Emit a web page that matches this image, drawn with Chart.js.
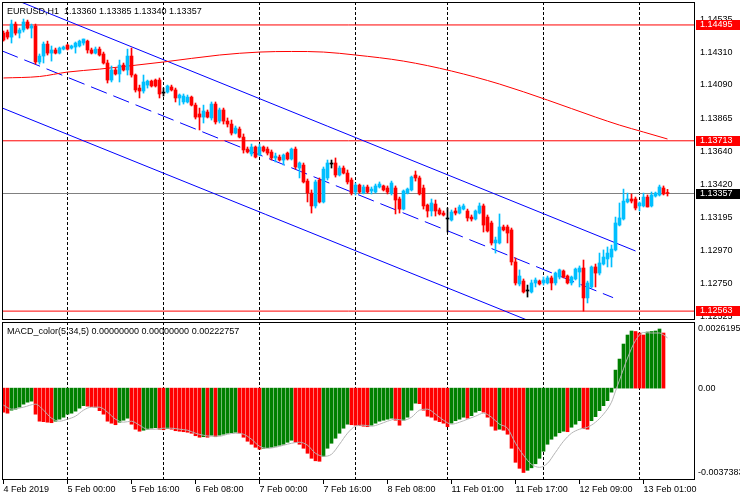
<!DOCTYPE html>
<html>
<head>
<meta charset="utf-8">
<script src="https://cdn.jsdelivr.net/npm/chart.js@4.4.1/dist/chart.umd.min.js"></script>
<style>
  body { margin: 0; background: #fff; }
  #wrap { position: relative; width: 740px; height: 500px; }
  canvas { position: absolute; left: 0; }
</style>
</head>
<body>
<div id="wrap">
  <canvas id="price" width="740" height="320" style="top:0"></canvas>
  <canvas id="macd" width="740" height="180" style="top:320px"></canvas>
</div>
<script>
// Candles, EURUSD H1, bar 0 = 4 Feb 08:00
const openP = [
  1.14440, 1.14447, 1.14413, 1.14501, 1.14440, 1.14461, 1.14515, 1.14474, 1.14488, 1.14245,
  1.14285, 1.14366, 1.14305, 1.14326, 1.14305, 1.14332, 1.14359, 1.14339, 1.14346, 1.14353,
  1.14373, 1.14386, 1.14326, 1.14305, 1.14332, 1.14299, 1.14238, 1.14123, 1.14191, 1.14164,
  1.14224, 1.14191, 1.14285, 1.14157, 1.14069, 1.14049, 1.14089, 1.14116, 1.14123, 1.14123,
  1.14035, 1.14042, 1.14076, 1.14056, 1.14002, 1.13975, 1.13975, 1.14008, 1.13954, 1.13894,
  1.13873, 1.13907, 1.13867, 1.13961, 1.13846, 1.13921, 1.13846, 1.13826, 1.13765, 1.13792,
  1.13738, 1.13657, 1.13624, 1.13671, 1.13617, 1.13671, 1.13657, 1.13637, 1.13597, 1.13603,
  1.13583, 1.13630, 1.13590, 1.13657, 1.13529, 1.13549, 1.13441, 1.13360, 1.13273, 1.13448,
  1.13300, 1.13462, 1.13556, 1.13563, 1.13482, 1.13529, 1.13495, 1.13448, 1.13367, 1.13414,
  1.13360, 1.13401, 1.13374, 1.13367, 1.13401, 1.13408, 1.13394, 1.13360, 1.13394, 1.13320,
  1.13252, 1.13360, 1.13381, 1.13482, 1.13462, 1.13394, 1.13279, 1.13239, 1.13286, 1.13246,
  1.13225, 1.13185, 1.13178, 1.13239, 1.13225, 1.13252, 1.13239, 1.13198, 1.13185, 1.13225,
  1.13273, 1.13198, 1.13158, 1.13023, 1.13023, 1.13131, 1.13131, 1.13111, 1.12895, 1.12746,
  1.12766, 1.12699, 1.12692, 1.12753, 1.12766, 1.12753, 1.12753, 1.12787, 1.12753, 1.12793,
  1.12834, 1.12800, 1.12753, 1.12780, 1.12827, 1.12854, 1.12652, 1.12726, 1.12861, 1.12820,
  1.12881, 1.12915, 1.12928, 1.12976, 1.13144, 1.13185, 1.13300, 1.13320, 1.13320, 1.13273,
  1.13273, 1.13333, 1.13273, 1.13340, 1.13347, 1.13394, 1.13360
];
const highP = [
  1.14454, 1.14461, 1.14528, 1.14515, 1.14474, 1.14535, 1.14528, 1.14501, 1.14501, 1.14299,
  1.14380, 1.14386, 1.14353, 1.14339, 1.14346, 1.14353, 1.14366, 1.14359, 1.14380, 1.14393,
  1.14400, 1.14393, 1.14339, 1.14346, 1.14346, 1.14312, 1.14258, 1.14218, 1.14204, 1.14258,
  1.14238, 1.14332, 1.14339, 1.14164, 1.14089, 1.14157, 1.14123, 1.14123, 1.14130, 1.14137,
  1.14069, 1.14089, 1.14089, 1.14069, 1.14029, 1.14029, 1.14022, 1.14015, 1.13968, 1.13934,
  1.13954, 1.13921, 1.13975, 1.13975, 1.13934, 1.13934, 1.13867, 1.13853, 1.13813, 1.13806,
  1.13759, 1.13671, 1.13691, 1.13678, 1.13691, 1.13678, 1.13671, 1.13651, 1.13630, 1.13617,
  1.13624, 1.13637, 1.13664, 1.13671, 1.13570, 1.13563, 1.13455, 1.13381, 1.13448, 1.13462,
  1.13536, 1.13583, 1.13583, 1.13597, 1.13543, 1.13543, 1.13516, 1.13462, 1.13428, 1.13421,
  1.13414, 1.13414, 1.13401, 1.13421, 1.13435, 1.13414, 1.13408, 1.13441, 1.13408, 1.13333,
  1.13381, 1.13394, 1.13475, 1.13509, 1.13475, 1.13414, 1.13286, 1.13320, 1.13313, 1.13259,
  1.13239, 1.13259, 1.13246, 1.13259, 1.13279, 1.13286, 1.13252, 1.13212, 1.13246, 1.13293,
  1.13286, 1.13212, 1.13171, 1.13063, 1.13219, 1.13144, 1.13144, 1.13124, 1.12922, 1.12841,
  1.12780, 1.12739, 1.12773, 1.12787, 1.12773, 1.12793, 1.12800, 1.12800, 1.12827, 1.12847,
  1.12841, 1.12807, 1.12800, 1.12854, 1.12868, 1.12908, 1.12766, 1.12868, 1.12881, 1.12955,
  1.12976, 1.12996, 1.13009, 1.13198, 1.13293, 1.13387, 1.13360, 1.13354, 1.13333, 1.13300,
  1.13360, 1.13347, 1.13367, 1.13367, 1.13414, 1.13408, 1.13385
];
const lowP = [
  1.14386, 1.14400, 1.14373, 1.14427, 1.14407, 1.14447, 1.14467, 1.14407, 1.14231, 1.14231,
  1.14238, 1.14292, 1.14251, 1.14299, 1.14299, 1.14326, 1.14326, 1.14332, 1.14305, 1.14346,
  1.14359, 1.14305, 1.14299, 1.14299, 1.14285, 1.14231, 1.14103, 1.14110, 1.14157, 1.14110,
  1.14184, 1.14157, 1.14143, 1.14042, 1.14002, 1.14035, 1.14069, 1.14076, 1.14076, 1.14002,
  1.14015, 1.14035, 1.14049, 1.13975, 1.13954, 1.13961, 1.13968, 1.13948, 1.13860, 1.13786,
  1.13833, 1.13867, 1.13853, 1.13826, 1.13833, 1.13826, 1.13806, 1.13752, 1.13759, 1.13732,
  1.13630, 1.13630, 1.13610, 1.13597, 1.13610, 1.13637, 1.13617, 1.13583, 1.13570, 1.13576,
  1.13549, 1.13583, 1.13583, 1.13522, 1.13462, 1.13428, 1.13300, 1.13225, 1.13259, 1.13293,
  1.13293, 1.13448, 1.13529, 1.13468, 1.13475, 1.13489, 1.13421, 1.13347, 1.13347, 1.13360,
  1.13354, 1.13360, 1.13354, 1.13360, 1.13394, 1.13374, 1.13354, 1.13347, 1.13219, 1.13225,
  1.13246, 1.13354, 1.13374, 1.13441, 1.13347, 1.13252, 1.13198, 1.13205, 1.13205, 1.13212,
  1.13205, 1.13097, 1.13171, 1.13212, 1.13219, 1.13246, 1.13171, 1.13171, 1.13178, 1.13219,
  1.13097, 1.13097, 1.13009, 1.12955, 1.13016, 1.13104, 1.13023, 1.12874, 1.12739, 1.12733,
  1.12685, 1.12658, 1.12685, 1.12726, 1.12739, 1.12739, 1.12746, 1.12706, 1.12739, 1.12780,
  1.12787, 1.12746, 1.12739, 1.12773, 1.12726, 1.12563, 1.12618, 1.12719, 1.12726, 1.12807,
  1.12874, 1.12861, 1.12861, 1.12969, 1.13138, 1.13178, 1.13293, 1.13293, 1.13246, 1.13239,
  1.13266, 1.13266, 1.13266, 1.13333, 1.13340, 1.13347, 1.13340
];
const closeP = [
  1.14393, 1.14413, 1.14501, 1.14440, 1.14461, 1.14515, 1.14474, 1.14488, 1.14245, 1.14285,
  1.14366, 1.14305, 1.14326, 1.14305, 1.14339, 1.14346, 1.14332, 1.14353, 1.14373, 1.14386,
  1.14400, 1.14326, 1.14305, 1.14332, 1.14292, 1.14238, 1.14123, 1.14191, 1.14164, 1.14224,
  1.14191, 1.14285, 1.14157, 1.14056, 1.14049, 1.14110, 1.14116, 1.14083, 1.14083, 1.14029,
  1.14035, 1.14083, 1.14056, 1.14002, 1.14022, 1.14015, 1.14008, 1.13954, 1.13873, 1.13873,
  1.13914, 1.13873, 1.13961, 1.13840, 1.13921, 1.13846, 1.13826, 1.13765, 1.13799, 1.13738,
  1.13651, 1.13637, 1.13671, 1.13603, 1.13671, 1.13644, 1.13630, 1.13597, 1.13610, 1.13583,
  1.13617, 1.13590, 1.13657, 1.13536, 1.13563, 1.13435, 1.13360, 1.13273, 1.13435, 1.13300,
  1.13522, 1.13563, 1.13556, 1.13482, 1.13529, 1.13495, 1.13435, 1.13360, 1.13414, 1.13367,
  1.13401, 1.13367, 1.13387, 1.13408, 1.13421, 1.13381, 1.13367, 1.13428, 1.13313, 1.13252,
  1.13374, 1.13387, 1.13468, 1.13462, 1.13354, 1.13273, 1.13239, 1.13293, 1.13239, 1.13219,
  1.13212, 1.13185, 1.13232, 1.13225, 1.13266, 1.13273, 1.13192, 1.13185, 1.13239, 1.13273,
  1.13144, 1.13104, 1.13023, 1.13043, 1.13131, 1.13111, 1.13090, 1.12895, 1.12753, 1.12800,
  1.12692, 1.12699, 1.12753, 1.12773, 1.12746, 1.12773, 1.12787, 1.12753, 1.12820, 1.12841,
  1.12793, 1.12753, 1.12793, 1.12847, 1.12854, 1.12652, 1.12753, 1.12861, 1.12820, 1.12888,
  1.12928, 1.12955, 1.12982, 1.13158, 1.13192, 1.13306, 1.13320, 1.13306, 1.13259, 1.13293,
  1.13333, 1.13266, 1.13347, 1.13360, 1.13401, 1.13354, 1.13357
];

// moving average (red curve), read at some bars
const maBars = [0, 9, 16, 24, 40, 54, 64, 72, 80, 88, 100, 112, 124, 136, 148, 154, 160, 166];
const maVals = [1.14137, 1.14147, 1.14177, 1.14197, 1.14245, 1.14292, 1.14312, 1.14316, 1.14312,
                1.14292, 1.14251, 1.14184, 1.14096, 1.13988, 1.13873, 1.13819, 1.13772, 1.13725];

// channel (bar, price) anchors
const channelUpper = [[4, 1.14654], [158, 1.12969]];
const channelMiddle = [[-0.375, 1.14320], [152.4, 1.12654]];
const channelLower = [[-0.375, 1.13935], [135, 1.12458]];

const redLevels = [1.14495, 1.13713, 1.12563];
const bidLevel = 1.13357;
const priceTicks = [1.14535, 1.14310, 1.14090, 1.13865, 1.13640, 1.13420, 1.13195, 1.12970, 1.12750, 1.12525];

// MACD histogram (bar 166 empty) and signal
const macdHist = [
  -0.001066, -0.001110, -0.000977, -0.000932, -0.000844, -0.000710, -0.000622, -0.000577, -0.001154, -0.001465,
  -0.001487, -0.001510, -0.001532, -0.001465, -0.001376, -0.001288, -0.001154, -0.001110, -0.001021, -0.000888,
  -0.000777, -0.000799, -0.000821, -0.000844, -0.000999, -0.001154, -0.001465, -0.001554, -0.001621, -0.001510,
  -0.001421, -0.001332, -0.001598, -0.001820, -0.001909, -0.001865, -0.001820, -0.001776, -0.001754, -0.001820,
  -0.001843, -0.001798, -0.001820, -0.001887, -0.001909, -0.001931, -0.001954, -0.001998, -0.002109, -0.002176,
  -0.002153, -0.002176, -0.002087, -0.002153, -0.002087, -0.002042, -0.001998, -0.001976, -0.001954, -0.001998,
  -0.002176, -0.002353, -0.002486, -0.002620, -0.002708, -0.002664, -0.002642, -0.002620, -0.002575, -0.002531,
  -0.002486, -0.002398, -0.002309, -0.002398, -0.002486, -0.002664, -0.002886, -0.003108, -0.003219, -0.003241,
  -0.003019, -0.002664, -0.002442, -0.002220, -0.001998, -0.001776, -0.001598, -0.001621, -0.001643, -0.001665,
  -0.001687, -0.001709, -0.001643, -0.001554, -0.001465, -0.001421, -0.001376, -0.001332, -0.001421, -0.001643,
  -0.001421, -0.001288, -0.000977, -0.000666, -0.000688, -0.000977, -0.001243, -0.001288, -0.001421, -0.001487,
  -0.001554, -0.001709, -0.001554, -0.001443, -0.001376, -0.001288, -0.001332, -0.001221, -0.001066, -0.000999,
  -0.001066, -0.001288, -0.001687, -0.001865, -0.001820, -0.001865, -0.002042, -0.002664, -0.003286, -0.003552,
  -0.003738, -0.003641, -0.003530, -0.003352, -0.003108, -0.002797, -0.002486, -0.002264, -0.002131, -0.001976,
  -0.001909, -0.001931, -0.001732, -0.001598, -0.001443, -0.001798, -0.001820, -0.001443, -0.001265, -0.000999,
  -0.000777, -0.000555, -0.000178, 0.000799, 0.001288, 0.001954, 0.002353, 0.002531, 0.002509, 0.002442,
  0.002353, 0.002486, 0.002509, 0.002531, 0.0026195, 0.002442, null
];
const signalBars = [0, 2, 5, 8, 10, 12, 14, 16, 18, 20, 22, 24, 26, 28, 30, 32, 34, 36, 38, 40,
  42, 44, 46, 48, 50, 52, 54, 56, 58, 60, 62, 64, 66, 68, 70, 72, 74, 76, 78, 80,
  82, 84, 86, 88, 90, 92, 94, 96, 98, 100, 102, 104, 106, 108, 110, 112, 114, 116, 118, 120,
  122, 124, 126, 128, 130, 132, 134, 136, 138, 140, 142, 144, 146, 148, 150, 152, 153, 154, 156, 158,
  160, 162, 164, 166];
const signalVals = [-0.000755, -0.000932, -0.000844, -0.000710, -0.000977, -0.001332, -0.001465, -0.001376, -0.001243, -0.000977,
  -0.000844, -0.000844, -0.001066, -0.001376, -0.001510, -0.001465, -0.001643, -0.001820, -0.001820, -0.001776,
  -0.001776, -0.001820, -0.001865, -0.001998, -0.002087, -0.002131, -0.002131, -0.002042, -0.001998, -0.002042,
  -0.002264, -0.002575, -0.002664, -0.002620, -0.002531, -0.002442, -0.002398, -0.002531, -0.002886, -0.003019,
  -0.002930, -0.002486, -0.001998, -0.001687, -0.001643, -0.001687, -0.001598, -0.001465, -0.001376, -0.001421,
  -0.001288, -0.000977, -0.000932, -0.001154, -0.001421, -0.001598, -0.001510, -0.001376, -0.001243, -0.001110,
  -0.001288, -0.001598, -0.001776, -0.002442, -0.002975, -0.003374, -0.003508, -0.003330, -0.002842, -0.002353,
  -0.001998, -0.001820, -0.001732, -0.001510, -0.001154, -0.000622, -0.000133, 0.000355, 0.001332, 0.002109,
  0.002464, 0.002442, 0.002442, 0.00222757];
const macdTicks = [0.0026195, 0, -0.0037383];
const macdTickLabels = ['0.0026195', '0.00', '-0.0037383'];

// time axis
const timeTickBars = [0, 16, 32, 48, 64, 80, 96, 112, 128, 144, 160];
const timeLabels = ['4 Feb 2019', '5 Feb 00:00', '5 Feb 16:00', '6 Feb 08:00', '7 Feb 00:00', '7 Feb 16:00',
  '8 Feb 08:00', '11 Feb 01:00', '11 Feb 17:00', '12 Feb 09:00', '13 Feb 01:00'];
const separatorBars = [16, 40, 64, 88, 111, 135, 159];

// ---- setup ----
const FONT_FAMILY = "'Liberation Sans', Arial, sans-serif";
const FONT = '9px ' + FONT_FAMILY;
Chart.defaults.font.family = FONT_FAMILY;
Chart.defaults.font.size = 9;
Chart.defaults.color = '#000';

const BULL = '#00bfff';
const BEAR = '#ff0000';
const X_MIN = -0.375;
const X_MAX = X_MIN + 693 / 4;
const bars = openP.map((_, i) => i);
const last = bars.length - 1;

function candleColor(i) {
  if (closeP[i] > openP[i]) return BULL;
  if (closeP[i] < openP[i]) return BEAR;
  return '#000000';
}

function pairs(arr) {
  return arr.map(p => ({ x: p[0], y: p[1] }));
}

function drawSeparators(chart) {
  const { ctx, chartArea: a, scales: { x } } = chart;
  ctx.save();
  ctx.strokeStyle = '#000';
  ctx.lineWidth = 1;
  ctx.setLineDash([3, 2]);
  separatorBars.forEach(b => {
    const px = Math.floor(x.getPixelForValue(b)) + 0.5;
    ctx.beginPath();
    ctx.moveTo(px, a.top);
    ctx.lineTo(px, a.bottom);
    ctx.stroke();
  });
  ctx.restore();
}

function drawFrame(chart, title, titleY) {
  const { ctx, chartArea: a } = chart;
  ctx.save();
  ctx.strokeStyle = '#000';
  ctx.lineWidth = 1;
  ctx.strokeRect(a.left + 0.5, a.top + 0.5, a.width - 1, a.height - 1);
  ctx.fillStyle = '#000';
  ctx.font = FONT;
  ctx.textBaseline = 'alphabetic';
  ctx.fillText(title, 7, titleY);
  ctx.restore();
}

const priceTitle = 'EURUSD,H1  ' + [openP[last], highP[last], lowP[last], closeP[last]].map(v => v.toFixed(5)).join(' ');
const macdTitle = 'MACD_color(5,34,5) 0.00000000 0.00000000 ' + signalVals[signalVals.length - 1].toFixed(8);

const priceOverlay = {
  id: 'priceOverlay',
  beforeDatasetsDraw(chart) { drawSeparators(chart); },
  afterDraw(chart) {
    const { ctx, chartArea: a, scales: { y } } = chart;
    drawFrame(chart, priceTitle, 14);
    const boxes = redLevels.map(v => [v, '#ff0000']).concat([[bidLevel, '#000000']]);
    ctx.save();
    ctx.font = FONT;
    ctx.textBaseline = 'middle';
    boxes.forEach(([v, c]) => {
      const py = Math.round(y.getPixelForValue(v));
      ctx.fillStyle = c;
      ctx.fillRect(a.right + 1, py - 5, chart.width - a.right - 1, 10);
      ctx.fillStyle = '#fff';
      ctx.fillText(v.toFixed(5), a.right + 5, py);
    });
    ctx.restore();
  }
};

const macdOverlay = {
  id: 'macdOverlay',
  beforeDatasetsDraw(chart) { drawSeparators(chart); },
  afterDraw(chart) { drawFrame(chart, macdTitle, 14); }
};

function levelLine(v, color, order) {
  return {
    type: 'line', data: [{ x: X_MIN, y: v }, { x: X_MAX, y: v }],
    borderColor: color, borderWidth: 1, pointRadius: 0, order: order
  };
}

new Chart(document.getElementById('price'), {
  type: 'bar',
  data: {
    datasets: [
      {
        label: 'body', data: bars.map(i => ({ x: i, y: [openP[i], closeP[i]] })),
        backgroundColor: bars.map(candleColor), barThickness: 3, minBarLength: 1, grouped: false, order: 0
      },
      {
        label: 'wick', data: bars.map(i => ({ x: i, y: [lowP[i], highP[i]] })),
        backgroundColor: bars.map(candleColor), barThickness: 1, grouped: false, order: 1
      },
      {
        type: 'line', data: maBars.map((b, k) => ({ x: b, y: maVals[k] })),
        borderColor: '#ff0000', borderWidth: 1, pointRadius: 0, cubicInterpolationMode: 'monotone', order: 2
      },
      { type: 'line', data: pairs(channelUpper), borderColor: '#0000ff', borderWidth: 1, pointRadius: 0, order: 3 },
      { type: 'line', data: pairs(channelMiddle), borderColor: '#0000ff', borderWidth: 1, borderDash: [17, 7], pointRadius: 0, order: 3 },
      { type: 'line', data: pairs(channelLower), borderColor: '#0000ff', borderWidth: 1, pointRadius: 0, order: 3 },
      ...redLevels.map(v => levelLine(v, '#ff0000', 4)),
      levelLine(bidLevel, '#808080', 4)
    ]
  },
  options: {
    responsive: false,
    animation: false,
    devicePixelRatio: 1,
    events: [],
    layout: { padding: { left: 2, top: 2, right: 0, bottom: 0 } },
    plugins: { legend: { display: false }, tooltip: { enabled: false } },
    scales: {
      x: { type: 'linear', min: X_MIN, max: X_MAX, offset: false, display: false },
      y: {
        position: 'right', min: 1.12503, max: 1.14650,
        afterBuildTicks(s) { s.ticks = priceTicks.map(v => ({ value: v })); },
        afterFit(s) { s.width = 45; s.paddingTop = 0; s.paddingBottom = 0; },
        ticks: { padding: 5, autoSkip: false, callback: v => v.toFixed(5) },
        grid: { display: false, drawTicks: false },
        border: { display: false }
      }
    }
  },
  plugins: [priceOverlay]
});

new Chart(document.getElementById('macd'), {
  type: 'bar',
  data: {
    datasets: [
      {
        label: 'macd', data: bars.map(i => ({ x: i, y: macdHist[i] })),
        backgroundColor: bars.map(i => (i > 0 && macdHist[i] > macdHist[i - 1]) ? '#008000' : '#ff0000'),
        barThickness: 3, grouped: false, order: 1
      },
      {
        type: 'line', data: signalBars.map((b, k) => ({ x: b, y: signalVals[k] })),
        borderColor: '#b4b4b4', borderWidth: 1, pointRadius: 0, cubicInterpolationMode: 'monotone', order: 0
      }
    ]
  },
  options: {
    responsive: false,
    animation: false,
    devicePixelRatio: 1,
    events: [],
    layout: { padding: { left: 2, top: 2, right: 0, bottom: 0 } },
    plugins: { legend: { display: false }, tooltip: { enabled: false } },
    scales: {
      x: {
        type: 'linear', min: X_MIN, max: X_MAX, offset: false,
        afterBuildTicks(s) { s.ticks = timeTickBars.map(v => ({ value: v })); },
        afterFit(s) { s.height = 20; s.paddingLeft = 0; s.paddingRight = 0; },
        ticks: { autoSkip: false, maxRotation: 0, minRotation: 0, align: 'start', padding: 0,
                 callback: (v, idx) => timeLabels[idx] },
        grid: { drawOnChartArea: false, drawTicks: true, tickLength: 4, color: '#000', offset: false },
        border: { display: false }
      },
      y: {
        position: 'right', min: -0.00407, max: 0.00293,
        afterBuildTicks(s) { s.ticks = macdTicks.map(v => ({ value: v })); },
        afterFit(s) { s.width = 45; s.paddingTop = 0; s.paddingBottom = 0; },
        ticks: { padding: 3, autoSkip: false, callback: (v, idx) => macdTickLabels[idx] },
        grid: { display: false, drawTicks: false },
        border: { display: false }
      }
    }
  },
  plugins: [macdOverlay]
});
</script>
</body>
</html>
